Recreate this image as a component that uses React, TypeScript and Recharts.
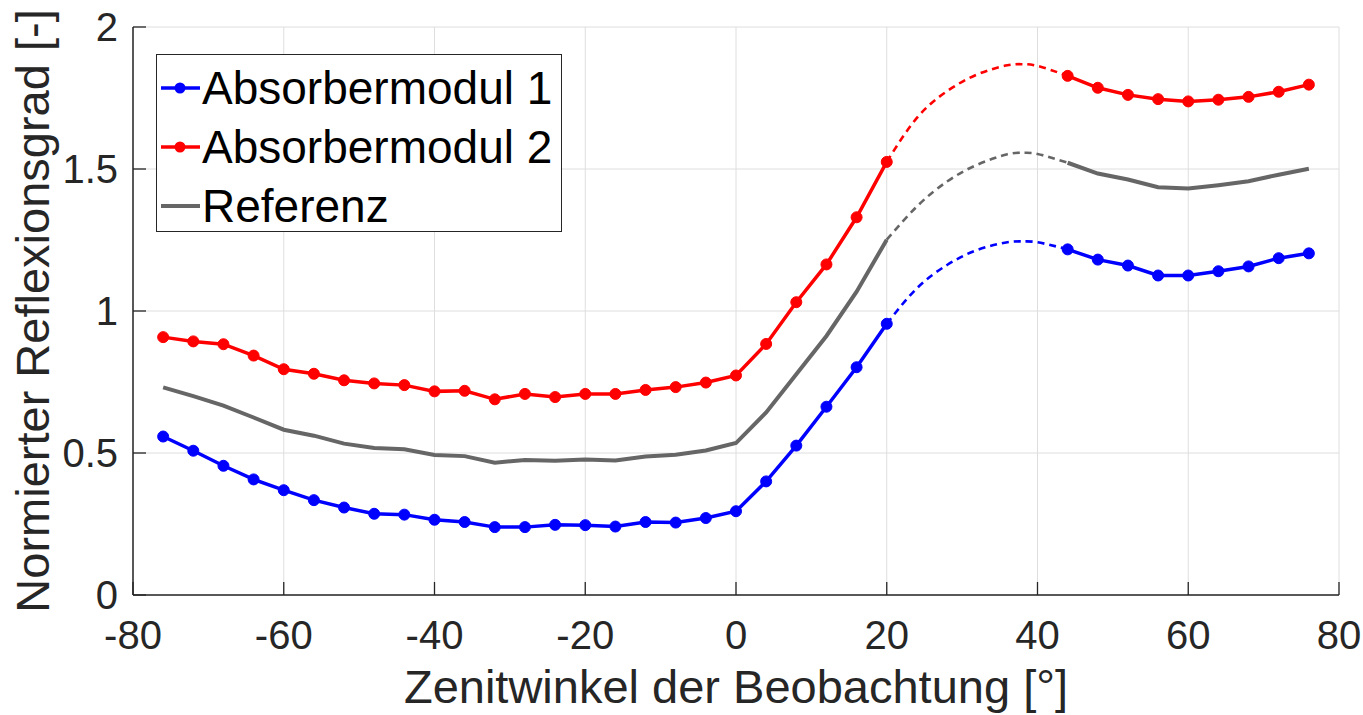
import React from "react";
import { CartesianGrid, Line, LineChart, XAxis, YAxis } from "recharts";

// Zenitwinkel (deg) of the measured points and of the dashed bridge over the gap
const anglesLeft = [-76, -72, -68, -64, -60, -56, -52, -48, -44, -40, -36, -32, -28, -24, -20, -16, -12, -8, -4, 0, 4, 8, 12, 16, 20];
const anglesRight = [44, 48, 52, 56, 60, 64, 68, 72, 76];
const anglesGap = [20, 24, 28, 32, 36, 38, 40, 44];

const modul1Left = [0.558, 0.508, 0.455, 0.407, 0.369, 0.334, 0.308, 0.286, 0.283, 0.265, 0.257, 0.239, 0.239, 0.247, 0.246, 0.241, 0.257, 0.255, 0.271, 0.295, 0.4, 0.526, 0.663, 0.802, 0.955];
const modul1Right = [1.217, 1.181, 1.16, 1.125, 1.125, 1.14, 1.157, 1.186, 1.203];
const modul1Gap = [0.955, 1.08, 1.162, 1.215, 1.242, 1.245, 1.242, 1.217];

const modul2Left = [0.908, 0.893, 0.883, 0.843, 0.795, 0.779, 0.756, 0.745, 0.739, 0.717, 0.719, 0.689, 0.708, 0.697, 0.708, 0.708, 0.722, 0.732, 0.748, 0.773, 0.884, 1.031, 1.164, 1.33, 1.525];
const modul2Right = [1.828, 1.786, 1.761, 1.746, 1.738, 1.744, 1.754, 1.772, 1.797];
const modul2Gap = [1.525, 1.68, 1.774, 1.833, 1.865, 1.869, 1.863, 1.828];

const referenzLeft = [0.731, 0.7, 0.667, 0.625, 0.582, 0.561, 0.533, 0.518, 0.513, 0.493, 0.489, 0.466, 0.475, 0.473, 0.477, 0.474, 0.488, 0.494, 0.509, 0.535, 0.643, 0.777, 0.912, 1.068, 1.251];
const referenzRight = [1.522, 1.484, 1.463, 1.436, 1.431, 1.443, 1.457, 1.48, 1.501];
const referenzGap = [1.251, 1.368, 1.456, 1.515, 1.552, 1.557, 1.553, 1.522];

const xTicks = [-80, -60, -40, -20, 0, 20, 40, 60, 80];
const yTicks = [0, 0.5, 1, 1.5, 2];

const toPoints = (xs: number[], ys: number[]) => xs.map((x, i) => ({ x, y: ys[i] }));

const FONT = "'Liberation Sans', Arial, Helvetica, sans-serif";
const AXIS = "#262626";
const BLUE = "#0000ff";
const RED = "#ff0000";
const GREY = "#666666";
const TICK_LEN = 13;

const series = [
  { name: "Absorbermodul 1", color: BLUE, marker: true, left: modul1Left, right: modul1Right, gap: modul1Gap },
  { name: "Absorbermodul 2", color: RED, marker: true, left: modul2Left, right: modul2Right, gap: modul2Gap },
  { name: "Referenz", color: GREY, marker: false, left: referenzLeft, right: referenzRight, gap: referenzGap },
];

function BottomTick({ x, y, payload }: any) {
  return (
    <g>
      <line x1={x} x2={x} y1={y} y2={y - TICK_LEN} stroke={AXIS} strokeWidth={1.3} />
      <text x={x} y={y + 54} textAnchor="middle" fontSize={40} fontFamily={FONT} fill={AXIS}>
        {payload.value}
      </text>
    </g>
  );
}

function TopTick({ x, y }: any) {
  return <line x1={x} x2={x} y1={y} y2={y + TICK_LEN} stroke={AXIS} strokeWidth={1.3} />;
}

function LeftTick({ x, y, payload }: any) {
  return (
    <g>
      <line x1={x} x2={x + TICK_LEN} y1={y} y2={y} stroke={AXIS} strokeWidth={1.3} />
      <text x={x - 15} y={y + 14} textAnchor="end" fontSize={40} fontFamily={FONT} fill={AXIS}>
        {payload.value}
      </text>
    </g>
  );
}

function RightTick({ x, y }: any) {
  return <line x1={x} x2={x - TICK_LEN} y1={y} y2={y} stroke={AXIS} strokeWidth={1.3} />;
}

function LegendBox() {
  return (
    <div
      style={{
        position: "absolute",
        left: 156,
        top: 54,
        width: 404,
        height: 176,
        border: `1.5px solid ${AXIS}`,
        background: "#fff",
        fontFamily: FONT,
        fontSize: 46,
        color: "#000",
      }}
    >
      {series.map((s, i) => (
        <div key={s.name} style={{ position: "absolute", left: 3, top: 4 + i * 59, height: 58, display: "flex", alignItems: "center" }}>
          <svg width={40} height={20} style={{ flex: "none" }}>
            <line x1={1} x2={40} y1={10} y2={10} stroke={s.color} strokeWidth={s.marker ? 3.5 : 4} />
            {s.marker && <circle cx={20} cy={10} r={5.5} fill={s.color} />}
          </svg>
          <span style={{ marginLeft: 2, whiteSpace: "nowrap", lineHeight: "58px" }}>{s.name}</span>
        </div>
      ))}
    </div>
  );
}

export default function App() {
  return (
    <div style={{ position: "absolute", left: 0, top: 0, width: 1363, height: 715, background: "#fff" }}>
      <LineChart width={1363} height={715} margin={{ top: 27, right: 24, left: 0, bottom: 0 }}>
        <CartesianGrid stroke="#dedede" strokeWidth={1} />
        <XAxis
          type="number"
          dataKey="x"
          domain={[-80, 80]}
          ticks={xTicks}
          height={120}
          allowDataOverflow
          axisLine={{ stroke: AXIS, strokeWidth: 1.5 }}
          tickLine={false}
          tickSize={0}
          tickMargin={0}
          tick={<BottomTick />}
          label={{ value: "Zenitwinkel der Beobachtung [°]", position: "insideBottom", offset: 12, fontSize: 47, fontFamily: FONT, fill: AXIS }}
        />
        <XAxis
          xAxisId="top"
          orientation="top"
          type="number"
          domain={[-80, 80]}
          ticks={xTicks}
          height={0}
          allowDataOverflow
          axisLine={{ stroke: AXIS, strokeWidth: 1.5 }}
          tickLine={false}
          tickSize={0}
          tickMargin={0}
          tick={<TopTick />}
        />
        <YAxis
          type="number"
          domain={[0, 2]}
          ticks={yTicks}
          width={133}
          allowDataOverflow
          axisLine={{ stroke: AXIS, strokeWidth: 1.5 }}
          tickLine={false}
          tickSize={0}
          tickMargin={0}
          tick={<LeftTick />}
          label={{
            value: "Normierter Reflexionsgrad [-]",
            angle: -90,
            position: "insideLeft",
            offset: 0,
            dx: 32,
            fontSize: 47,
            fontFamily: FONT,
            fill: AXIS,
            style: { textAnchor: "middle" },
          }}
        />
        <YAxis
          yAxisId="right"
          orientation="right"
          type="number"
          domain={[0, 2]}
          ticks={yTicks}
          width={0}
          allowDataOverflow
          axisLine={{ stroke: AXIS, strokeWidth: 1.5 }}
          tickLine={false}
          tickSize={0}
          tickMargin={0}
          tick={<RightTick />}
        />

        {series.map((s) => (
          <Line
            key={s.name + "-gap"}
            data={toPoints(anglesGap, s.gap)}
            dataKey="y"
            type="natural"
            stroke={s.color}
            strokeWidth={2.6}
            strokeDasharray="7 5"
            dot={false}
            activeDot={false}
            isAnimationActive={false}
          />
        ))}
        {series.map((s) => (
          <Line
            key={s.name + "-left"}
            data={toPoints(anglesLeft, s.left)}
            dataKey="y"
            type="linear"
            stroke={s.color}
            strokeWidth={s.marker ? 3.5 : 4}
            dot={s.marker ? { r: 5.5, fill: s.color, stroke: s.color, strokeWidth: 1 } : false}
            activeDot={false}
            isAnimationActive={false}
          />
        ))}
        {series.map((s) => (
          <Line
            key={s.name + "-right"}
            data={toPoints(anglesRight, s.right)}
            dataKey="y"
            type="linear"
            stroke={s.color}
            strokeWidth={s.marker ? 3.5 : 4}
            dot={s.marker ? { r: 5.5, fill: s.color, stroke: s.color, strokeWidth: 1 } : false}
            activeDot={false}
            isAnimationActive={false}
          />
        ))}
      </LineChart>
      <LegendBox />
    </div>
  );
}
